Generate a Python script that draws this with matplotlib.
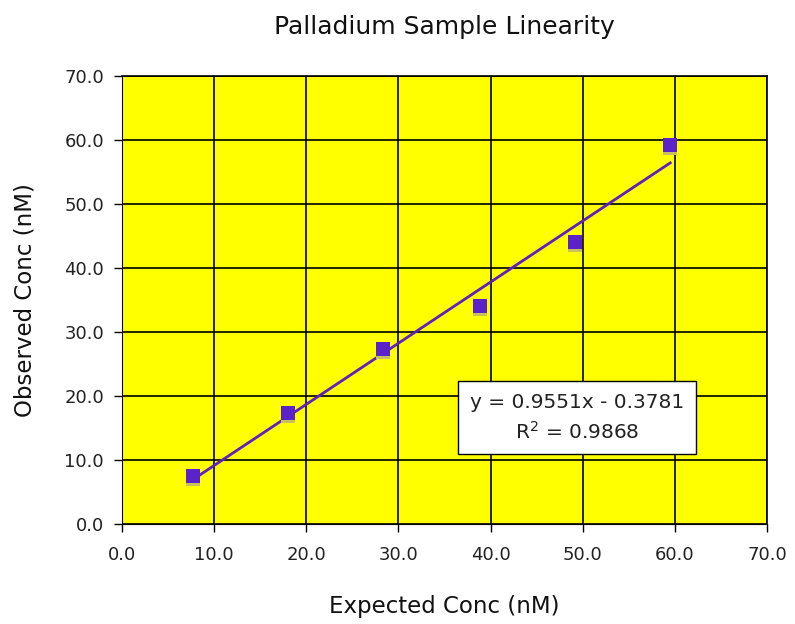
import numpy as np
import matplotlib
matplotlib.use("Agg")
import matplotlib.pyplot as plt
import matplotlib.transforms as mtransforms

# datos
expected = [7.7, 18.0, 28.3, 38.8, 49.2, 59.5]
observed = [7.5, 17.3, 27.3, 34.1, 44.1, 59.2]
ticks = [0, 10, 20, 30, 40, 50, 60, 70]

plt.rcParams['font.family'] = ['DejaVu Sans']

fig = plt.figure(figsize=(7.95, 6.24), dpi=100)
ax = fig.add_axes([0.1535, 0.160, 0.8113, 0.718])
ax.set_facecolor('#ffff00')

ax.set_xlim(0, 70)
ax.set_ylim(0, 70)
ax.set_xticks(ticks)
ax.set_yticks(ticks)
ax.set_xticklabels([f"{t:.1f}" for t in ticks], fontsize=13, color='#222222')
ax.set_yticklabels([f"{t:.1f}" for t in ticks], fontsize=13, color='#222222')
ax.grid(True, color='black', linewidth=1.2)
ax.set_axisbelow(True)
ax.tick_params(direction='out', length=6, width=1)
ax.tick_params(axis='x', pad=10)
ax.tick_params(axis='y', pad=7)
for s in ['top', 'right']:
    ax.spines[s].set_color('black')
    ax.spines[s].set_linewidth(1.2)

# línea de tendencia
x_arr = np.array(expected)
m, b = 0.9551, -0.3781
xs = np.array([x_arr.min(), x_arr.max()])
ax.plot(xs, m * xs + b, color='#6020c0', linewidth=2.0, zorder=3)

# sombra de los marcadores
shadow = mtransforms.offset_copy(ax.transData, fig=fig, x=0, y=-3, units='dots')
ax.plot(expected, observed, 's', markersize=10, color='#c8c060', transform=shadow,
        zorder=3.5, markeredgewidth=0)
ax.plot(expected, observed, 's', markersize=10, color='#5a22c8', zorder=4,
        markeredgewidth=0)

ax.text(49.4, 16.6, "y = 0.9551x - 0.3781\nR$^2$ = 0.9868", ha='center', va='center',
        fontsize=14.5, color='#222222', linespacing=1.45, zorder=5,
        bbox=dict(boxstyle='square,pad=0.6', facecolor='white', edgecolor='black', linewidth=1))

ax.set_title('Palladium Sample Linearity', fontsize=18, pad=30, color='#111111')
ax.set_xlabel('Expected Conc (nM)', fontsize=16.5, labelpad=22, color='#111111')
ax.set_ylabel('Observed Conc (nM)', fontsize=16.5, labelpad=20, color='#111111')

fig.savefig('out.png', dpi=100)
